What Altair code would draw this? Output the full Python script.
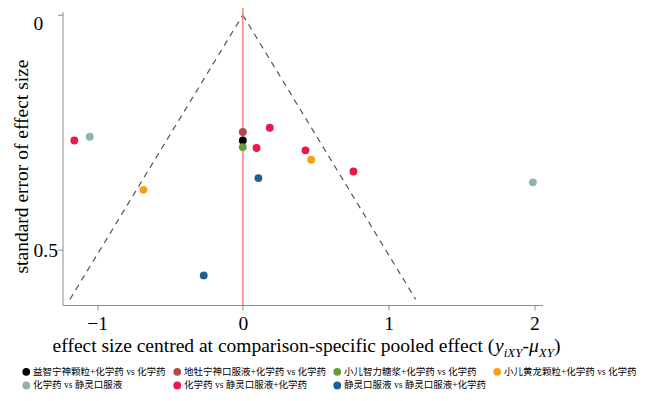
import altair as alt
import pandas as pd

# ---------------- data ----------------
groups = [
    "益智宁神颗粒+化学药 vs 化学药",
    "地牡宁神口服液+化学药 vs 化学药",
    "小儿智力糖浆+化学药 vs 化学药",
    "小儿黄龙颗粒+化学药 vs 化学药",
    "化学药 vs 静灵口服液",
    "化学药 vs 静灵口服液+化学药",
    "静灵口服液 vs 静灵口服液+化学药",
]
colors = ["#000000", "#B5474B", "#6A9A36", "#F5A00F", "#8DB5A5", "#E8194B", "#1F5F95"]

point_group = [
    groups[5], groups[4], groups[3], groups[6], groups[1], groups[0], groups[2],
    groups[5], groups[5], groups[6], groups[5], groups[3], groups[5], groups[4],
]
point_effect = [-1.156, -1.050, -0.682, -0.268, 0.0, 0.0, 0.0,
                0.094, 0.185, 0.107, 0.430, 0.469, 0.759, 1.990]
point_se = [0.267, 0.259, 0.372, 0.554, 0.249, 0.267, 0.281,
            0.283, 0.240, 0.347, 0.288, 0.308, 0.333, 0.356]

funnel_side = ["left", "left", "right", "right"]
funnel_x = [0.0, -1.186, 0.0, 1.186]
funnel_se = [0.0, 0.605, 0.0, 0.605]

x_ticks = [-1, 0, 1, 2]
y_ticks = [0, 0.5]

# ---------------- layout ----------------
W, H = 480, 293.3
SERIF = "Liberation Serif"
FS = 19.5
GRAY = "#8c8c8c"

df = pd.DataFrame({"x": point_effect, "y": point_se, "group": point_group})
fdf = pd.DataFrame({"x": funnel_x, "y": funnel_se, "side": funnel_side})
one = pd.DataFrame({"a": [0]})

xs = alt.Scale(domain=[-1.237, 2.056], nice=False, zero=False)
ys = alt.Scale(domain=[-0.007, 0.617], nice=False, zero=False, reverse=True)

xaxis = alt.Axis(values=x_ticks, format="d", title=None, tickSize=5, labelPadding=4,
                 labelFlush=False, grid=False, domainColor=GRAY, tickColor=GRAY,
                 labelFont=SERIF, labelFontSize=FS, labelColor="black")
yaxis = alt.Axis(values=y_ticks, format="~g", title=None, tickSize=5, labelPadding=24.5,
                 labelAlign="left", labelFlush=False, grid=False, domainColor=GRAY,
                 labelBaseline={"condition": {"test": "datum.value == 0", "value": "top"},
                                "value": "middle"},
                 tickColor=GRAY, labelFont=SERIF, labelFontSize=FS, labelColor="black")

X = alt.X("x:Q", scale=xs, axis=xaxis)
Y = alt.Y("y:Q", scale=ys, axis=yaxis)

funnel = alt.Chart(fdf).mark_line(color="#555555", strokeDash=[6, 5], strokeWidth=1.2).encode(
    x=X, y=Y, detail="side:N")

vline = alt.Chart(pd.DataFrame({"x": [0.0]})).mark_rule(color="#F4837F", strokeWidth=1.5).encode(
    x=alt.X("x:Q", scale=xs, axis=xaxis), y=alt.value(-6), y2=alt.value(H))

points = alt.Chart(df).mark_circle(size=62, opacity=1).encode(
    x=X, y=Y,
    color=alt.Color("group:N", scale=alt.Scale(domain=groups, range=colors),
                    legend=alt.Legend(orient="none", legendX=-41, legendY=355,
                                      direction="horizontal", columns=4, title=None,
                                      labelFont=SERIF + ", Noto Sans CJK SC",
                                      labelFontSize=9.5, labelColor="black",
                                      symbolType="circle", symbolSize=60,
                                      symbolStrokeWidth=0, labelOffset=2,
                                      columnPadding=6, rowPadding=3, labelLimit=300)))


def txt(t, x, y, size=FS, italic=False, align="left", baseline="alphabetic", angle=0):
    kw = dict(text=t, font=SERIF, fontSize=size, align=align, baseline=baseline,
              color="black")
    if italic:
        kw["fontStyle"] = "italic"
    if angle:
        kw["angle"] = angle
    return alt.Chart(one).mark_text(**kw).encode(x=alt.value(x), y=alt.value(y))


ty = 340.3
sub_y = ty + 4.5
title_parts = [
    txt("effect size centred at comparison-specific pooled effect (", -9.9, ty),
    txt("y", 432.5, ty, italic=True),
    txt("iXY", 441.2, sub_y, size=13, italic=True),
    txt("-", 460.0, ty),
    txt("μ", 466.5, ty, italic=True),
    txt("XY", 476.3, sub_y, size=13, italic=True),
    txt(")", 491.5, ty),
    txt("standard error of effect size", -40.5, 154.8, align="center",
        baseline="middle", angle=270),
]

chart = alt.layer(funnel, vline, points, *title_parts).properties(
    width=W, height=H,
    autosize=alt.AutoSizeParams(type="none"),
    padding={"left": 54.5, "top": 3.7, "right": 99.5, "bottom": 88},
).configure_view(stroke=None)

chart.save("out.html", embed_options={"renderer": "svg", "actions": False})
